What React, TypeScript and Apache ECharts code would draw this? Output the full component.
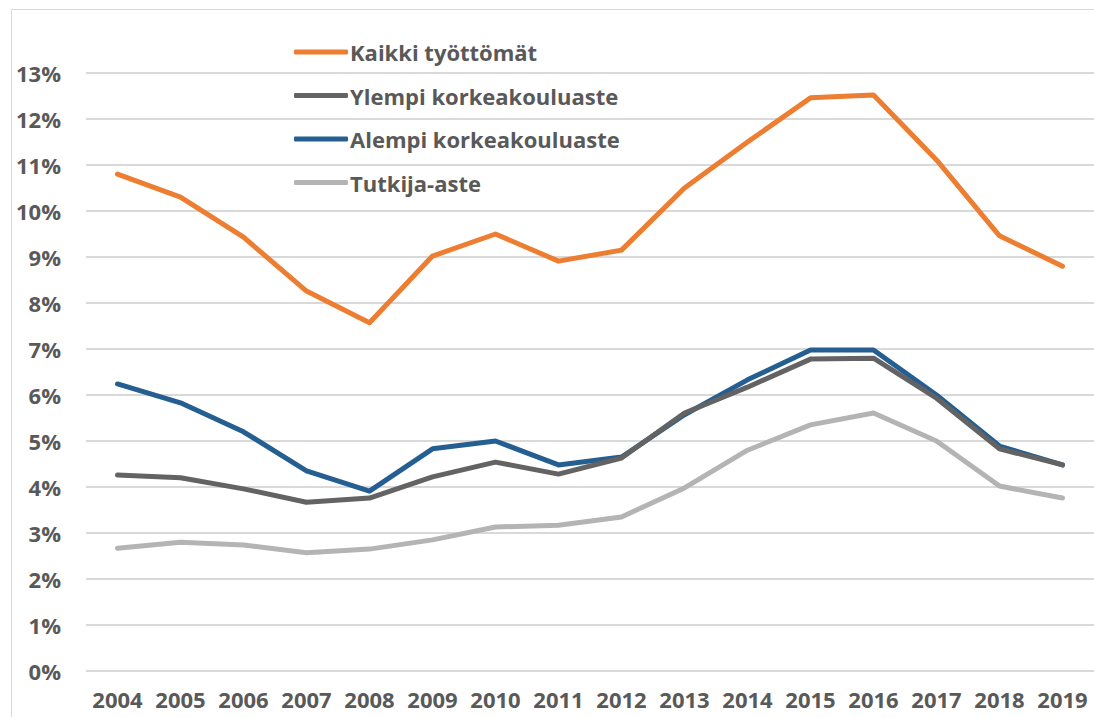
import React, { useEffect, useRef } from "react";
import * as echarts from "echarts";

const years = ["2004","2005","2006","2007","2008","2009","2010","2011","2012","2013","2014","2015","2016","2017","2018","2019"];
const kaikki = [10.80,10.30,9.43,8.26,7.57,9.02,9.50,8.91,9.15,10.50,11.50,12.46,12.52,11.11,9.46,8.80];
const ylempi = [4.26,4.20,3.96,3.67,3.76,4.22,4.54,4.28,4.63,5.61,6.17,6.78,6.80,5.93,4.83,4.48];
const alempi = [6.24,5.83,5.20,4.35,3.91,4.83,5.00,4.48,4.65,5.57,6.33,6.98,6.98,6.00,4.89,4.48];
const tutkija = [2.67,2.80,2.74,2.57,2.65,2.85,3.13,3.17,3.35,3.98,4.80,5.35,5.61,5.00,4.02,3.76];
const seriesNames = ["Kaikki työttömät","Ylempi korkeakouluaste","Alempi korkeakouluaste","Tutkija-aste"];
const seriesColors = ["#ED7D31","#636363","#255E91","#B4B4B4"];

const FONT = "'Open Sans', sans-serif";

export default function App() {
  const ref = useRef<HTMLDivElement>(null);
  useEffect(() => {
    if (!ref.current) return;
    const chart = echarts.init(ref.current, null, { renderer: "svg" });
    const datas = [kaikki, ylempi, alempi, tutkija];
    chart.setOption({
      animation: false,
      backgroundColor: "#ffffff",
      graphic: [
        {
          type: "rect",
          shape: { x: 11.5, y: 9.5, width: 1200, height: 800 },
          style: { fill: "none", stroke: "#d9d9d9", lineWidth: 1 },
          silent: true,
        },
      ],
      legend: {
        orient: "vertical",
        left: 289,
        top: 36,
        itemWidth: 54,
        itemHeight: 5,
        itemGap: 21.5,
        icon: "roundRect",
        data: seriesNames,
        textStyle: { fontFamily: FONT, fontWeight: 700, fontSize: 22, color: "#595959", padding: [0, 0, 0, -3] },
      },
      grid: { left: 86, right: 0, top: 73, bottom: 46, containLabel: false },
      xAxis: {
        type: "category",
        data: years,
        boundaryGap: true,
        axisLine: { show: false },
        axisTick: { show: false },
        axisLabel: { interval: 0, fontFamily: FONT, fontWeight: 700, fontSize: 22, color: "#595959", margin: 17 },
      },
      yAxis: {
        type: "value",
        min: 0,
        max: 13,
        interval: 1,
        axisLine: { show: false },
        axisTick: { show: false },
        splitLine: { lineStyle: { color: "#d9d9d9", width: 2 } },
        axisLabel: {
          fontFamily: FONT, fontWeight: 700, fontSize: 22, color: "#595959", margin: 25,
          formatter: (v: number) => `${v}%`,
        },
      },
      series: datas.map((d, i) => ({
        name: seriesNames[i],
        type: "line",
        data: d,
        showSymbol: false,
        symbol: "none",
        color: seriesColors[i],
        lineStyle: { color: seriesColors[i], width: 5, cap: "round", join: "round" },
        itemStyle: { color: seriesColors[i] },
        z: 10 - i,
      })),
    });
    return () => chart.dispose();
  }, []);
  return <div ref={ref} style={{ position: "absolute", left: 0, top: 0, width: 1094, height: 717 }} />;
}
